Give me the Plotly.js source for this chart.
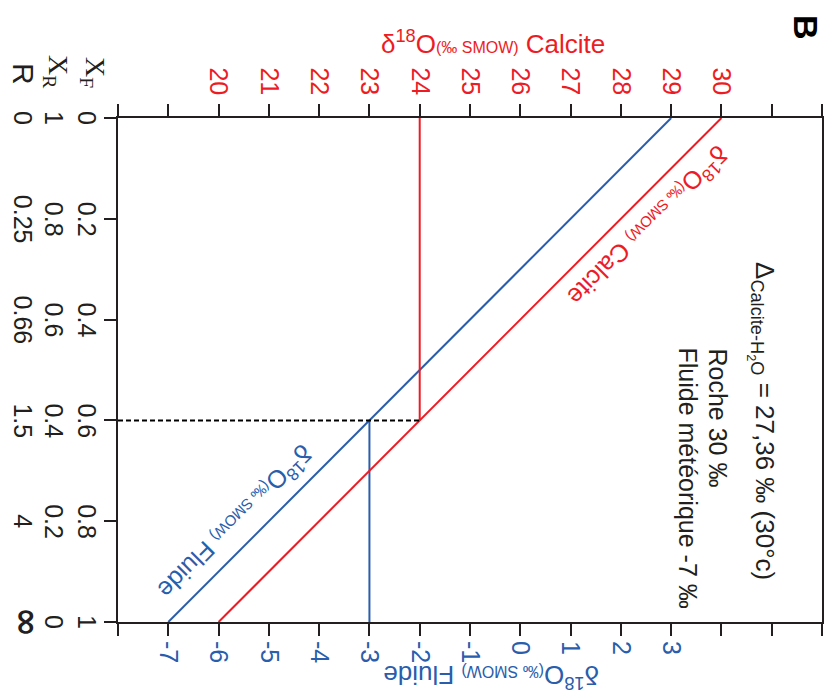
<!DOCTYPE html>
<html>
<head>
<meta charset="utf-8">
<script src="https://cdn.plot.ly/plotly-3.0.1.min.js"></script>
<style>html,body{margin:0;padding:0;background:#fff;}#chart{width:825px;height:693px;}</style>
</head>
<body>
<div id="chart"></div>
<script>
// ---- data ----
const xfTicks = [0, 0.2, 0.4, 0.6, 0.8, 1];
const xfLabels = ['0', '0.2', '0.4', '0.6', '0.8', '1'];
const xrLabels = ['1', '0.8', '0.6', '0.4', '0.2', '0'];
const rLabels = ['0', '0.25', '0.66', '1.5', '4', '∞'];
const fluideTicks = [-7, -6, -5, -4, -3, -2, -1, 0, 1, 2, 3];
const fluideTickText = ['-7', '-6', '-5', '-4', '-3', '-2', '-1', '0', '1', '2', '3'];
const calciteTicks = [20, 21, 22, 23, 24, 25, 26, 27, 28, 29, 30];
const calciteTickText = ['20', '21', '22', '23', '24', '25', '26', '27', '28', '29', '30'];
const fluideRange = [-8, 6];
const calciteRange = [18, 32];
const xfEnds = [0, 1];
const calciteEnds = [30, 20];
const fluideEnds = [3, -7];
const xfRead = 0.6;
const calciteRead = 24;
const fluideRead = -3;

const RED = '#ED1C24';
const BLUE = '#2A5DAB';
const INK = '#231F20';
const FONT = 'Liberation Sans, Arial, sans-serif';

const W = 825, H = 693, L = 118, R = 3, T = 118, B = 71;
const pw = W - L - R, ph = H - T - B;
const px = v => (v - L) / pw;
const py = v => 1 - (v - T) / ph;

const traces = [
  {x: calciteEnds, y: xfEnds, xaxis: 'x2', yaxis: 'y', mode: 'lines', line: {color: RED, width: 2}, hoverinfo: 'skip'},
  {x: fluideEnds, y: xfEnds, xaxis: 'x', yaxis: 'y', mode: 'lines', line: {color: BLUE, width: 2}, hoverinfo: 'skip'},
  {x: [calciteRead, calciteRead], y: [0, xfRead], xaxis: 'x2', yaxis: 'y', mode: 'lines', line: {color: RED, width: 2}, hoverinfo: 'skip'},
  {x: [calciteRange[0], calciteRead], y: [xfRead, xfRead], xaxis: 'x2', yaxis: 'y', mode: 'lines', line: {color: '#000', width: 2, dash: '5px,3px'}, hoverinfo: 'skip'},
  {x: [fluideRead, fluideRead], y: [xfRead, 1], xaxis: 'x', yaxis: 'y', mode: 'lines', line: {color: BLUE, width: 2}, hoverinfo: 'skip'}
];

const ann = [];
// left columns
xfTicks.forEach((t, i) => {
  ann.push({xref: 'paper', yref: 'y', x: px(87), y: t, text: xfLabels[i], textangle: 90, showarrow: false, xanchor: 'center', yanchor: 'middle', font: {family: FONT, size: 25, color: INK}});
  ann.push({xref: 'paper', yref: 'y', x: px(54), y: t, text: xrLabels[i], textangle: 90, showarrow: false, xanchor: 'center', yanchor: 'middle', font: {family: FONT, size: 25, color: INK}});
  const isInf = rLabels[i] === '∞';
  ann.push({xref: 'paper', yref: 'y', x: px(isInf ? 28 : 23), y: t, text: isInf ? '<b>∞</b>' : rLabels[i], textangle: 90, showarrow: false, xanchor: 'center', yanchor: 'middle', font: {family: isInf ? 'DejaVu Sans, sans-serif' : FONT, size: isInf ? 36 : 25, color: INK}});
});
// headers
ann.push({xref: 'paper', yref: 'paper', x: px(94), y: py(72), text: 'X<sub>F</sub>', textangle: 90, showarrow: false, xanchor: 'center', yanchor: 'middle', font: {family: 'Liberation Serif, serif', size: 28, color: INK}});
ann.push({xref: 'paper', yref: 'paper', x: px(57), y: py(72), text: 'X<sub>R</sub>', textangle: 90, showarrow: false, xanchor: 'center', yanchor: 'middle', font: {family: 'Liberation Serif, serif', size: 28, color: INK}});
ann.push({xref: 'paper', yref: 'paper', x: px(24), y: py(74), text: 'R', textangle: 90, showarrow: false, xanchor: 'center', yanchor: 'middle', font: {family: FONT, size: 30, color: INK}});
// titles
ann.push({xref: 'paper', yref: 'paper', x: px(493), y: py(42), text: 'δ<sup>18</sup>O<span style="font-size:16px">(‰ SMOW)</span> Calcite', showarrow: false, xanchor: 'center', yanchor: 'middle', font: {family: FONT, size: 26, color: RED}});
ann.push({xref: 'paper', yref: 'paper', x: px(491), y: py(677), text: 'δ<sup>18</sup>O<span style="font-size:16px">(‰ SMOW)</span> Fluide', textangle: 180, showarrow: false, xanchor: 'center', yanchor: 'middle', font: {family: FONT, size: 26, color: BLUE}});
ann.push({xref: 'paper', yref: 'paper', x: px(806), y: py(27), text: '<b>B</b>', textangle: 90, showarrow: false, xanchor: 'center', yanchor: 'middle', font: {family: FONT, size: 34, color: '#000'}});
// line labels
const redT = 0.18, blueT = 0.834;
ann.push({xref: 'x2', yref: 'y', x: calciteEnds[0] + (calciteEnds[1] - calciteEnds[0]) * redT, y: redT, xshift: 18, yshift: -18,
  text: 'δ<sup>18</sup>O<span style="font-size:15px">(‰ SMOW)</span> Calcite', textangle: 135, showarrow: false, xanchor: 'center', yanchor: 'middle', font: {family: FONT, size: 25, color: RED}});
ann.push({xref: 'x', yref: 'y', x: fluideEnds[0] + (fluideEnds[1] - fluideEnds[0]) * blueT, y: blueT, xshift: -16, yshift: 16,
  text: 'δ<sup>18</sup>O<span style="font-size:15px">(‰ SMOW)</span> Fluide', textangle: 135, showarrow: false, xanchor: 'center', yanchor: 'middle', font: {family: FONT, size: 25, color: BLUE}});
// right texts
ann.push({xref: 'paper', yref: 'paper', x: px(762), y: py(260), text: 'Δ<sub>Calcite-H<sub>2</sub>O</sub> = 27,36 ‰ (30°c)', textangle: 90, showarrow: false, xanchor: 'center', yanchor: 'top', font: {family: FONT, size: 26, color: INK}});
ann.push({xref: 'paper', yref: 'paper', x: px(718), y: py(346), text: 'Roche 30 ‰', textangle: 90, showarrow: false, xanchor: 'center', yanchor: 'top', font: {family: FONT, size: 25, color: INK}});
ann.push({xref: 'paper', yref: 'paper', x: px(688), y: py(345), text: 'Fluide météorique -7 ‰', textangle: 90, showarrow: false, xanchor: 'center', yanchor: 'top', font: {family: FONT, size: 25, color: INK}});

const axCommon = {ticks: 'outside', ticklen: 12, tickwidth: 2, tickcolor: INK, showline: true, linewidth: 2, linecolor: INK, showgrid: false, zeroline: false, fixedrange: true, tickmode: 'array',
  minor: {ticks: 'outside', tickmode: 'linear', tick0: 0, dtick: 1, ticklen: 12, tickwidth: 2, tickcolor: INK, showgrid: false}};

const layout = {
  width: W, height: H,
  margin: {l: L, r: R, t: T, b: B, pad: 0},
  paper_bgcolor: '#fff', plot_bgcolor: '#fff',
  showlegend: false,
  xaxis: Object.assign({}, axCommon, {range: fluideRange, tickvals: fluideTicks, ticktext: fluideTickText, tickangle: 90, side: 'bottom', anchor: 'y', tickfont: {family: FONT, size: 25, color: BLUE}}),
  xaxis2: Object.assign({}, axCommon, {range: calciteRange, tickvals: calciteTicks, ticktext: calciteTickText, tickangle: 90, side: 'top', overlaying: 'x', anchor: 'y', tickfont: {family: FONT, size: 25, color: RED}}),
  yaxis: Object.assign({}, axCommon, {range: [1, 0], tickvals: xfTicks, showticklabels: false, mirror: true, minor: {ticks: ''}}),
  annotations: ann
};

Plotly.newPlot('chart', traces, layout, {displayModeBar: false, staticPlot: true});
</script>
</body>
</html>
